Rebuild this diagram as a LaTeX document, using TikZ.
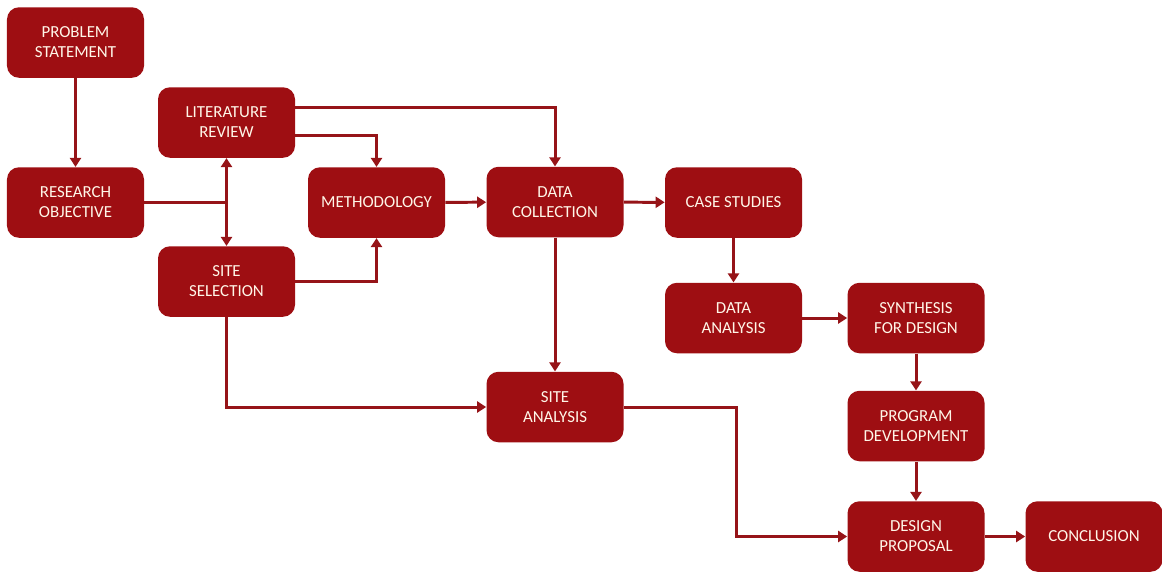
\documentclass[tikz,border=0pt]{standalone}
\usepackage{fontspec}
\setmainfont{Carlito}
\usetikzlibrary{arrows.meta}
\definecolor{boxred}{RGB}{158,14,18}
\definecolor{linered}{RGB}{150,20,24}
\definecolor{textcream}{RGB}{255,246,232}
\begin{document}
\begin{tikzpicture}[x=0.2mm,y=-0.2mm,
	stage/.style={draw=none,fill=boxred,rounded corners=2.4mm,text=textcream,align=center,
		minimum width=2.74cm,minimum height=1.41cm,inner sep=1pt,font=\fontsize{9.6}{11.4}\selectfont},
	link/.style={draw=linered,line width=1.7pt},
	conn/.style={link,-{Triangle[length=1.8mm,width=2.2mm]}},
	both/.style={link,{Triangle[length=1.8mm,width=2.2mm]}-{Triangle[length=1.8mm,width=2.2mm]}}]
\useasboundingbox (0,0) rectangle (1162,573);
% boxes
\node[stage] (ps) at (75.5,42.5) {PROBLEM\\STATEMENT};
\node[stage] (ro) at (75.5,202.5) {RESEARCH\\OBJECTIVE};
\node[stage] (lr) at (226.5,122.5) {LITERATURE\\REVIEW};
\node[stage] (ss) at (226.5,281.5) {SITE\\SELECTION};
\node[stage] (meth) at (376.5,202.5) {METHODOLOGY};
\node[stage] (dc) at (555,202) {DATA\\COLLECTION};
\node[stage] (cs) at (733.5,202.5) {CASE STUDIES};
\node[stage] (da) at (733.5,318) {DATA\\ANALYSIS};
\node[stage] (sfd) at (916,318) {SYNTHESIS\\FOR DESIGN};
\node[stage] (pd) at (916,426) {PROGRAM\\DEVELOPMENT};
\node[stage] (sa) at (555,407) {SITE\\ANALYSIS};
\node[stage] (dp) at (916,536.5) {DESIGN\\PROPOSAL};
\node[stage] (conc) at (1094,536.5) {CONCLUSION};
\coordinate (bend) at (736,407);
% connectors
\draw[conn] (ps) -- (ro);
\draw[conn] ([yshift=3mm]lr.east) -| (dc.north);
\draw[conn] ([yshift=-2.5mm]lr.east) -| (meth.north);
\draw[link] (ro.east) -- (ro.east -| lr.south);
\draw[both] (lr) -- (ss);
\draw[conn] (ss.east) -| (meth.south);
\draw[conn] (meth) -- (dc);
\draw[conn] (dc) -- (cs);
\draw[conn] (dc) -- (sa);
\draw[conn] (ss.south) |- (sa.west);
\draw[conn] (cs) -- (da);
\draw[conn] (da) -- (sfd);
\draw[conn] (sfd) -- (pd);
\draw[conn] (pd) -- (dp);
\draw[conn] (sa.east) -- (bend) |- (dp.west);
\draw[conn] (dp) -- (conc);
\end{tikzpicture}
\end{document}
